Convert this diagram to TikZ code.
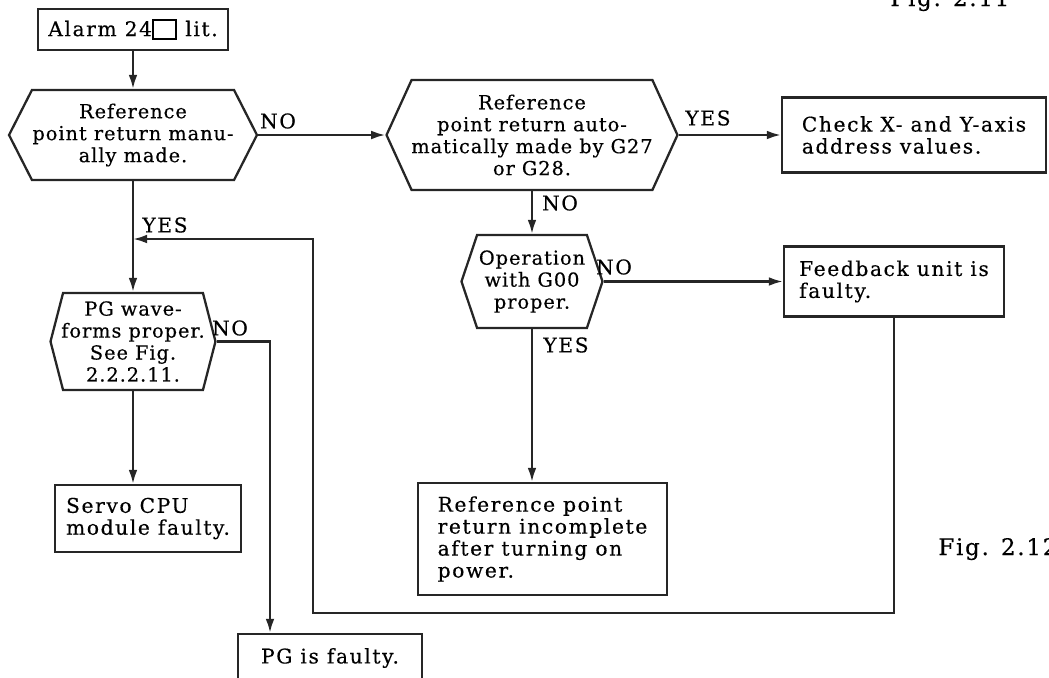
\documentclass[tikz,border=0pt]{standalone}
\usepackage{fontspec}
\setmainfont{DejaVu Serif}[LetterSpace=8,FakeBold=0.4]
\usetikzlibrary{shapes.symbols,arrows.meta,positioning}

\newcommand{\alarmsq}{\raisebox{-1pt}{\setlength{\fboxsep}{0pt}\setlength{\fboxrule}{1.2pt}\fbox{\rule{0pt}{9.5pt}\hspace{12pt}}}}
\newcommand{\flowfont}{\fontsize{11.5}{12.5}\selectfont}
\newcommand{\askfont}{\fontsize{11}{12.5}\selectfont\addfontfeature{LetterSpace=5}}

\tikzset{
  flow/.style={line width=1.3pt,draw=black!85},
  arr/.style={flow,-{Latex[length=8pt,width=5pt]}},
  box/.style={flow,rectangle,align=left,inner sep=0pt,font=\flowfont},
  decision/.style={flow,signal,signal to=east and west,signal from=nowhere,
    align=center,inner ysep=0pt,inner xsep=-12pt,font=\askfont},
  lbl/.style={inner sep=0pt,font=\flowfont}
}

\begin{document}
\begin{tikzpicture}[x=0.02cm,y=-0.02cm]
  \useasboundingbox (0,0) rectangle (1049,677);
  % boxes and decisions
  \node[box,minimum width=3.8cm,minimum height=0.82cm] (alarm) at (133,29.5) {Alarm 24\alarmsq\ lit.};
  \node[decision,minimum width=4.96cm,minimum height=1.8cm,signal pointer angle=126] (rpman) at (133,135)
    {Reference\\point return manu-\\ally made.};
  \node[decision,minimum width=5.82cm,minimum height=2.2cm,signal pointer angle=131] (rpauto) at (532,135)
    {Reference\\point return auto-\\matically made by G27\\or G28.};
  \node[box,minimum width=5.28cm,minimum height=1.5cm] (check) at (914,135)
    {Check X- and Y-axis\\address values.};
  \node[decision,minimum width=2.82cm,minimum height=1.86cm,signal pointer angle=143] (g00) at (532,281.5)
    {Operation\\with G00\\proper.};
  \node[box,minimum width=4.4cm,minimum height=1.4cm] (feedback) at (894,281.5)
    {Feedback unit is\\faulty.};
  \node[box,minimum width=4.98cm,minimum height=2.24cm] (refinc) at (542.5,539)
    {Reference point\\return incomplete\\after turning on\\power.};
  \node[decision,minimum width=3.3cm,minimum height=1.94cm,signal pointer angle=151] (pgwave) at (133,341.5)
    {PG wave-\\forms proper.\\See Fig.\\2.2.2.11.};
  \node[box,minimum width=3.72cm,minimum height=1.34cm] (servo) at (148,518.5)
    {Servo CPU\\module faulty.};
  \node[box,minimum width=3.68cm,minimum height=0.96cm] (pgfault) at (330,658) {PG is faulty.};

  % branch labels
  \node[lbl] (no1) at (278,121) {NO};
  \node[lbl] (yes2) at (708,118) {YES};
  \node[lbl] (no2) at (560,203) {NO};
  \node[lbl] (no3) at (614,267) {NO};
  \node[lbl] (yes3) at (566,345) {YES};
  \node[lbl] (yes1) at (165,225) {YES};
  \node[lbl] (no4) at (230,328) {NO};
  \node[lbl,anchor=base west,font=\fontsize{13}{15}\selectfont] (fig11) at (890,6) {Fig. 2.11};
  \node[lbl,anchor=base west,font=\fontsize{13}{15}\selectfont] (fig12) at (938,555) {Fig. 2.12};

  % connectors
  \coordinate (loopin) at (133,239);
  \coordinate (loopbl) at (313,613);
  \draw[arr] (alarm.south) -- (rpman.north);
  \draw[arr] (rpman.east) -- (rpauto.west);
  \draw[arr] (rpauto.east) -- (check.west);
  \draw[arr] (rpauto.south) -- (g00.north);
  \draw[arr] (g00.east) -- (feedback.west);
  \draw[arr] (g00.south) -- (g00.south |- refinc.north);
  \draw[arr] (rpman.south) -- (pgwave.north);
  \draw[arr] (pgwave.south) -- (pgwave.south |- servo.north);
  \draw[arr] (pgwave.east) -| ([xshift=-1.2cm]pgfault.north);
  \draw[arr] (feedback.south) |- (loopbl) |- (loopin);
\end{tikzpicture}
\end{document}
